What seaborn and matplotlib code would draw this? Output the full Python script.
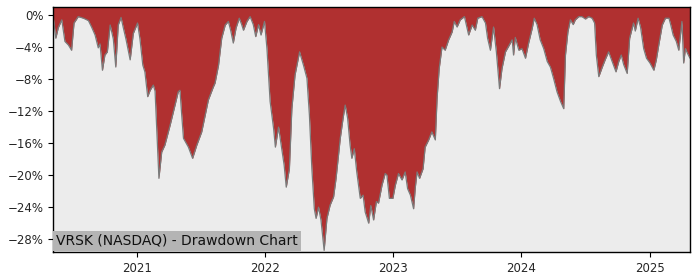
import matplotlib
matplotlib.use("Agg")
import matplotlib.pyplot as plt
import matplotlib.ticker as mticker
import seaborn as sns
import pandas as pd

# ---- data ----
dates = [
    "2020-05-06", "2020-05-14", "2020-05-21", "2020-05-31", "2020-06-09", "2020-06-19", "2020-06-28",
    "2020-07-05", "2020-07-17", "2020-08-01", "2020-08-15", "2020-08-24", "2020-09-03", "2020-09-12",
    "2020-09-17", "2020-09-24", "2020-10-01", "2020-10-08", "2020-10-16", "2020-10-25", "2020-11-01",
    "2020-11-08", "2020-11-16", "2020-11-22", "2020-11-30", "2020-12-12", "2020-12-21", "2021-01-02",
    "2021-01-09", "2021-01-17", "2021-01-23", "2021-01-31", "2021-02-07", "2021-02-16", "2021-02-21",
    "2021-02-26", "2021-03-04", "2021-03-12", "2021-03-21", "2021-04-05", "2021-04-19", "2021-04-28",
    "2021-05-03", "2021-05-08", "2021-05-13", "2021-05-27", "2021-06-08", "2021-06-20", "2021-07-04",
    "2021-07-14", "2021-07-23", "2021-08-06", "2021-08-11", "2021-08-21", "2021-08-30", "2021-09-09",
    "2021-09-18", "2021-09-25", "2021-10-02", "2021-10-10", "2021-10-19", "2021-10-26", "2021-10-31",
    "2021-11-10", "2021-11-19", "2021-11-28", "2021-12-05", "2021-12-13", "2021-12-20", "2021-12-30",
    "2022-01-06", "2022-01-15", "2022-01-25", "2022-01-30", "2022-02-08", "2022-02-17", "2022-02-24",
    "2022-03-02", "2022-03-11", "2022-03-18", "2022-03-27", "2022-04-09", "2022-04-20", "2022-04-30",
    "2022-05-07", "2022-05-14", "2022-05-21", "2022-05-26", "2022-06-02", "2022-06-09", "2022-06-18",
    "2022-06-26", "2022-07-05", "2022-07-15", "2022-07-22", "2022-08-03", "2022-08-11", "2022-08-17",
    "2022-08-24", "2022-08-31", "2022-09-05", "2022-09-12", "2022-09-19", "2022-09-29", "2022-10-07",
    "2022-10-13", "2022-10-23", "2022-10-29", "2022-11-06", "2022-11-14", "2022-11-20", "2022-11-30",
    "2022-12-09", "2022-12-14", "2022-12-21", "2022-12-31", "2023-01-07", "2023-01-16", "2023-01-26",
    "2023-02-04", "2023-02-11", "2023-02-19", "2023-02-28", "2023-03-05", "2023-03-10", "2023-03-17",
    "2023-03-27", "2023-04-02", "2023-04-12", "2023-04-21", "2023-05-01", "2023-05-06", "2023-05-12",
    "2023-05-20", "2023-05-29", "2023-06-08", "2023-06-18", "2023-06-24", "2023-07-02", "2023-07-11",
    "2023-07-23", "2023-08-04", "2023-08-14", "2023-08-23", "2023-08-30", "2023-09-11", "2023-09-21",
    "2023-09-27", "2023-10-05", "2023-10-14", "2023-10-22", "2023-10-31", "2023-11-07", "2023-11-17",
    "2023-11-26", "2023-12-06", "2023-12-10", "2023-12-15", "2023-12-25", "2024-01-03", "2024-01-13",
    "2024-01-22", "2024-02-01", "2024-02-07", "2024-02-15", "2024-02-24", "2024-03-05", "2024-03-15",
    "2024-03-24", "2024-04-02", "2024-04-12", "2024-04-22", "2024-05-01", "2024-05-06", "2024-05-13",
    "2024-05-20", "2024-05-28", "2024-06-03", "2024-06-13", "2024-06-22", "2024-07-02", "2024-07-11",
    "2024-07-21", "2024-07-28", "2024-08-02", "2024-08-09", "2024-08-19", "2024-08-28", "2024-09-06",
    "2024-09-16", "2024-09-27", "2024-10-05", "2024-10-12", "2024-10-19", "2024-10-29", "2024-11-05",
    "2024-11-16", "2024-11-21", "2024-11-29", "2024-12-06", "2024-12-15", "2024-12-23", "2025-01-02",
    "2025-01-13", "2025-01-20", "2025-01-27", "2025-02-06", "2025-02-15", "2025-02-25", "2025-03-02",
    "2025-03-09", "2025-03-18", "2025-03-25", "2025-04-03", "2025-04-08", "2025-04-13", "2025-04-19",
    "2025-04-26",
]
drawdown = [
    0.0, -2.9, -1.6, -0.6, -3.3, -3.75, -4.4,
    -1.0, -0.2, -0.4, -0.7, -1.5, -2.5, -4.1,
    -3.6, -6.9, -5.0, -4.6, -1.25, -3.0, -6.5,
    -1.25, -0.3, -1.5, -3.0, -5.6, -2.3, -1.0,
    -3.0, -6.25, -7.1, -10.2, -9.4, -8.75, -9.5,
    -14.6, -20.4, -17.1, -16.25, -13.75, -11.25, -9.6,
    -9.4, -12.5, -15.4, -16.5, -17.9, -16.25, -14.6,
    -12.5, -10.6, -9.0, -8.5, -6.25, -2.9, -1.25,
    -0.8, -2.0, -3.5, -1.6, -0.4, -1.2, -1.9,
    -0.8, -0.2, -1.2, -2.7, -1.2, -2.5, -0.8,
    -4.2, -10.8, -14.2, -16.5, -14.0, -16.7, -18.75,
    -21.5, -19.2, -11.7, -7.5, -4.6, -6.25, -7.9,
    -12.5, -19.2, -24.2, -25.4, -24.0, -25.6, -29.4,
    -25.4, -23.75, -22.7, -20.4, -15.4, -12.9, -11.25,
    -12.9, -16.25, -17.9, -16.7, -19.6, -22.9, -22.5,
    -24.6, -26.0, -23.8, -25.6, -23.3, -23.5, -21.25,
    -19.8, -20.0, -22.9, -22.9, -21.25, -19.8, -20.6,
    -19.6, -21.7, -22.5, -24.2, -21.5, -19.6, -20.4,
    -19.2, -16.5, -15.6, -14.6, -15.6, -10.4, -6.7,
    -4.0, -4.4, -3.1, -2.1, -0.8, -1.5, -0.6,
    -0.2, -2.5, -1.25, -1.9, -0.4, -0.2, -1.0,
    -2.9, -4.4, -1.5, -4.6, -9.2, -6.7, -4.6,
    -3.9, -3.1, -5.0, -2.8, -4.4, -4.2, -5.4,
    -3.5, -1.7, -0.4, -1.2, -3.1, -4.2, -5.8,
    -6.5, -7.9, -9.6, -10.8, -11.7, -5.0, -2.1,
    -0.6, -1.2, -0.6, -0.2, -0.2, -0.5, -0.2,
    -0.4, -1.0, -5.0, -7.7, -6.5, -5.5, -4.6,
    -5.8, -7.1, -5.8, -5.0, -6.2, -7.3, -2.9,
    -1.0, -2.0, -0.4, -1.5, -4.2, -5.4, -6.0,
    -6.9, -5.6, -3.75, -1.25, -0.4, -0.4, -1.2,
    -2.5, -3.3, -4.4, -0.8, -6.0, -4.2, -4.8,
    -5.4,
]
y_ticks = [0, -4, -8, -12, -16, -20, -24, -28]
x_tick_years = ["2021", "2022", "2023", "2024", "2025"]
title_text = "VRSK (NASDAQ) - Drawdown Chart"

df = pd.DataFrame({"date": pd.to_datetime(dates), "drawdown": drawdown})

# ---- style ----
sns.set_style("white")
plt.rcParams["font.family"] = ["DejaVu Sans"]

fig = plt.figure(figsize=(7, 2.8), dpi=100)
ax = fig.add_axes([0.0757, 0.1, 0.91, 0.875])
ax.set_facecolor("#ececec")

y_top = 1.0
y_bottom = -29.6
ax.fill_between(df["date"], df["drawdown"], y_top, color="#b03030", linewidth=0)
sns.lineplot(data=df, x="date", y="drawdown", ax=ax, color="#7a7a7a", linewidth=0.9)

ax.set_xlim(df["date"].min(), df["date"].max())
ax.set_ylim(y_bottom, y_top)

ax.set_yticks(y_ticks)
ax.yaxis.set_major_formatter(mticker.FuncFormatter(lambda v, p: f"{v:.0f}%".replace("-", "\u2212")))
ax.set_xticks(pd.to_datetime([f"{y}-01-01" for y in x_tick_years]))
ax.set_xticklabels(x_tick_years)
ax.tick_params(axis="both", labelsize=8.5, length=3.5, width=0.8, color="black", direction="out",
               left=True, bottom=True)
ax.set_xlabel("")
ax.set_ylabel("")
for s in ax.spines.values():
    s.set_visible(True)
    s.set_color("black")
    s.set_linewidth(1.0)

ax.annotate(title_text, xy=(0, 0), xycoords="axes fraction", xytext=(3, 4),
            textcoords="offset pixels", ha="left", va="bottom", fontsize=10, color="#111111",
            bbox=dict(boxstyle="square,pad=0.2", facecolor="#b4b4b4", edgecolor="none"))

fig.savefig("out.png", dpi=100)
